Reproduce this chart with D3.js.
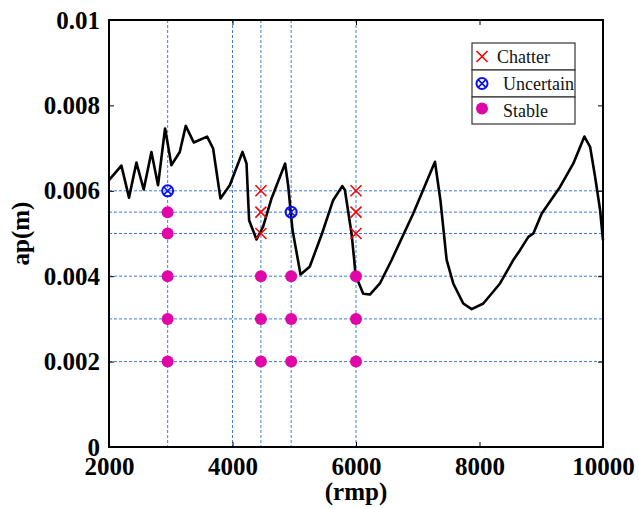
<!DOCTYPE html>
<html>
<head>
  <meta charset="utf-8">
  <script src="https://d3js.org/d3.v7.min.js"></script>
  <style>
    body { margin: 0; background: #fff; }
    text { font-family: "Liberation Serif", "Times New Roman", serif; }
  </style>
</head>
<body>
<script type="text/javascript">
  // stability lobe boundary (spindle speed, depth of cut)
  var lobeRpm = [2000, 2201, 2324, 2444, 2562, 2687, 2794, 2908, 3011, 3146, 3243, 3373, 3589, 3686,
    3805, 3956, 4162, 4227, 4269, 4389, 4496, 4632, 4852, 4901, 4972, 5102, 5250, 5450, 5630, 5777,
    5820, 5928, 5971, 5993, 6117, 6225, 6387, 6577, 6927, 7279, 7367, 7468, 7575, 7737, 7873, 8062,
    8332, 8548, 8656, 8791, 8872, 9008, 9304, 9520, 9699, 9791, 9872, 9953, 10000];
  var lobeAp = [6.25, 6.59, 5.84, 6.66, 6.03, 6.91, 6.13, 7.46, 6.60, 6.91, 7.52, 7.13, 7.27, 6.99,
    5.82, 6.13, 6.91, 6.64, 5.31, 4.86, 5.16, 5.82, 6.64, 6.13, 5.08, 4.04, 4.22, 5.00, 5.78, 6.11,
    6.02, 5.00, 4.38, 4.02, 3.59, 3.57, 3.83, 4.38, 5.47, 6.68, 5.78, 4.38, 3.83, 3.36, 3.23, 3.36,
    3.83, 4.38, 4.61, 4.92, 5.00, 5.47, 6.09, 6.64, 7.27, 7.03, 6.33, 5.55, 4.84];

  // test cuts
  var chatterRpm = [4460, 4460, 4460, 6000, 6000, 6000];
  var chatterAp = [6, 5.5, 5, 6, 5.5, 5];
  var uncertainRpm = [2950, 4950];
  var uncertainAp = [6, 5.5];
  var stableRpm = [2950, 2950, 2950, 2950, 2950, 4460, 4460, 4460, 4950, 4950, 4950, 6000, 6000, 6000];
  var stableAp = [5.5, 5, 4, 3, 2, 4, 3, 2, 4, 3, 2, 4, 3, 2];

  var gridRpm = [2950, 4000, 4460, 4950, 6000];
  var gridAp = [2, 3, 4, 5, 5.5, 6];

  var xTicks = [2000, 4000, 6000, 8000, 10000];
  var yTicks = [0, 0.002, 0.004, 0.006, 0.008, 0.01];
  var legendLabels = ["Chatter", "Uncertain", "Stable"];

  var w = 639, h = 509;
  var pLeft = 109, pRight = 603, pTop = 20, pBottom = 447;

  var svg = d3.select("body").append("svg")
    .attr("width", w)
    .attr("height", h);

  var x = d3.scaleLinear().domain([2000, 10000]).range([pLeft, pRight]);
  var y = d3.scaleLinear().domain([0, 0.01]).range([pBottom, pTop]);

  // grid lines (blue dashed)
  svg.selectAll("line.vgrid")
    .data(gridRpm)
    .enter()
    .append("line")
    .attr("x1", function(d){ return x(d); })
    .attr("x2", function(d){ return x(d); })
    .attr("y1", pTop)
    .attr("y2", pBottom)
    .attr("stroke", "#3f7bd4")
    .attr("stroke-width", 1)
    .attr("stroke-dasharray", "3,2");

  svg.selectAll("line.hgrid")
    .data(gridAp)
    .enter()
    .append("line")
    .attr("x1", pLeft)
    .attr("x2", pRight)
    .attr("y1", function(d){ return y(d / 1000); })
    .attr("y2", function(d){ return y(d / 1000); })
    .attr("stroke", "#3f7bd4")
    .attr("stroke-width", 1)
    .attr("stroke-dasharray", "3,2");

  // lobe curve
  var lobe = lobeRpm.map(function(r, i){ return [r, lobeAp[i] / 1000]; });
  svg.append("path")
    .datum(lobe)
    .attr("fill", "none")
    .attr("stroke", "#000")
    .attr("stroke-width", 2.6)
    .attr("stroke-linejoin", "round")
    .attr("d", d3.line()
      .x(function(d){ return x(d[0]); })
      .y(function(d){ return y(d[1]); }));

  // axes with inward ticks
  var axisFont = function(g){
    g.select(".domain").remove();
    g.selectAll("text")
      .attr("font-family", "Liberation Serif, Times New Roman, serif")
      .attr("font-weight", "bold")
      .attr("font-size", "25px")
      .attr("fill", "#000");
    g.selectAll("line").attr("stroke", "#000");
  };

  svg.append("g")
    .attr("transform", "translate(0," + pBottom + ")")
    .call(d3.axisBottom(x).tickValues(xTicks).tickSize(-5).tickPadding(10).tickFormat(d3.format("d")))
    .call(axisFont);

  svg.append("g")
    .attr("transform", "translate(0," + pTop + ")")
    .call(d3.axisTop(x).tickValues(xTicks).tickSize(-5).tickFormat(""))
    .call(axisFont);

  svg.append("g")
    .attr("transform", "translate(" + pLeft + ",0)")
    .call(d3.axisLeft(y).tickValues(yTicks).tickSize(-5).tickPadding(9)
      .tickFormat(function(d){ return d === 0 ? "0" : String(+d.toFixed(3)); }))
    .call(axisFont);

  svg.append("g")
    .attr("transform", "translate(" + pRight + ",0)")
    .call(d3.axisRight(y).tickValues(yTicks).tickSize(-5).tickFormat(""))
    .call(axisFont);

  svg.append("rect")
    .attr("x", pLeft)
    .attr("y", pTop)
    .attr("width", pRight - pLeft)
    .attr("height", pBottom - pTop)
    .attr("fill", "none")
    .attr("stroke", "#000")
    .attr("stroke-width", 2);

  // markers
  function cross(g, size, color){
    g.append("path")
      .attr("d", "M" + (-size) + "," + (-size) + "L" + size + "," + size +
        "M" + (-size) + "," + size + "L" + size + "," + (-size))
      .attr("stroke", color)
      .attr("stroke-width", 1.6)
      .attr("fill", "none");
  }
  function uncertainMark(g){
    g.append("circle").attr("r", 5.5).attr("fill", "none").attr("stroke", "#0a10f0").attr("stroke-width", 2);
    var s = 3.6;
    g.append("path")
      .attr("d", "M" + (-s) + "," + (-s) + "L" + s + "," + s + "M" + (-s) + "," + s + "L" + s + "," + (-s))
      .attr("stroke", "#0a10f0")
      .attr("stroke-width", 1.6);
  }

  svg.selectAll("circle.stable")
    .data(stableRpm)
    .enter()
    .append("circle")
    .attr("cx", function(d){ return x(d); })
    .attr("cy", function(d, i){ return y(stableAp[i] / 1000); })
    .attr("r", 6)
    .attr("fill", "#e006a8");

  svg.selectAll("g.chatter")
    .data(chatterRpm)
    .enter()
    .append("g")
    .attr("transform", function(d, i){ return "translate(" + x(d) + "," + y(chatterAp[i] / 1000) + ")"; })
    .each(function(){ cross(d3.select(this), 5.5, "#ff0000"); });

  svg.selectAll("g.uncertain")
    .data(uncertainRpm)
    .enter()
    .append("g")
    .attr("transform", function(d, i){ return "translate(" + x(d) + "," + y(uncertainAp[i] / 1000) + ")"; })
    .each(function(){ uncertainMark(d3.select(this)); });

  // axis titles
  svg.append("text")
    .attr("x", (pLeft + pRight) / 2)
    .attr("y", 500)
    .attr("text-anchor", "middle")
    .attr("font-weight", "bold")
    .attr("font-size", "25px")
    .text("(rmp)");

  svg.append("text")
    .attr("transform", "translate(29," + (pTop + pBottom) / 2 + ") rotate(-90)")
    .attr("text-anchor", "middle")
    .attr("font-weight", "bold")
    .attr("font-size", "25px")
    .text("ap(m)");

  // legend
  var lx = 472, ly = 43, lw = 103, rowH = 27;
  var legend = svg.append("g");
  legendLabels.forEach(function(lbl, i){
    legend.append("rect")
      .attr("x", lx)
      .attr("y", ly + i * rowH)
      .attr("width", lw)
      .attr("height", rowH)
      .attr("fill", "#fff")
      .attr("stroke", "#333")
      .attr("stroke-width", 1.2);
    var cy = ly + i * rowH + rowH / 2;
    var m = legend.append("g").attr("transform", "translate(482," + cy + ")");
    if (i === 0) cross(m, 5.5, "#ff0000");
    else if (i === 1) uncertainMark(m);
    else m.append("circle").attr("r", 6).attr("cy", -2).attr("fill", "#e006a8");
    legend.append("text")
      .attr("x", i === 0 ? 497 : 503)
      .attr("y", cy + 6)
      .attr("font-size", "18px")
      .attr("fill", "#111")
      .text(lbl);
  });
</script>
</body>
</html>
